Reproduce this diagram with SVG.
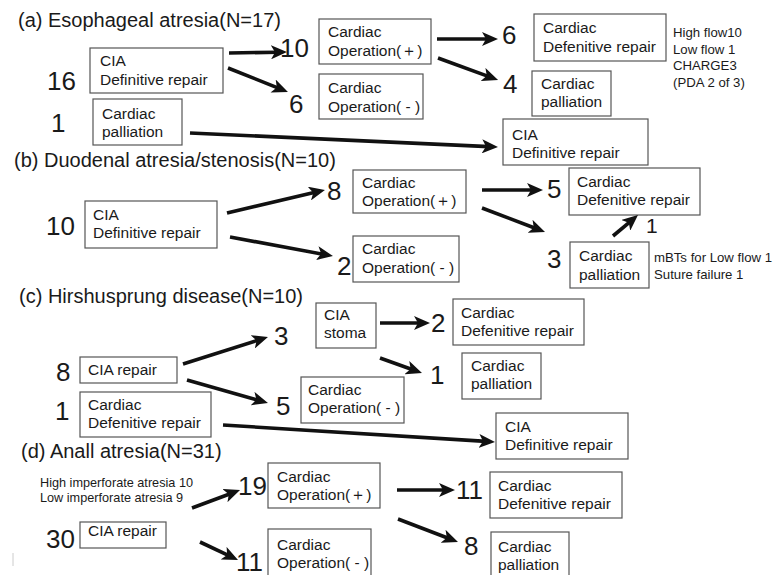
<svg xmlns="http://www.w3.org/2000/svg" width="774" height="575" viewBox="0 0 774 575">
<defs>
<marker id="ah" markerUnits="userSpaceOnUse" viewBox="0 0 16 14" refX="7" refY="7" markerWidth="16" markerHeight="14" orient="auto">
<path d="M0,0 L16,7 L0,14 L4,7 z" fill="#111"/>
</marker>
<style>
text{font-family:"Liberation Sans",Arial,Helvetica,sans-serif;fill:#1a1a1a}
.t{font-size:20px}
.b{font-size:15.5px}
.n{font-size:26px}
.s{font-size:13.2px}
.box{fill:#fff;stroke:#555;stroke-width:1.2}
.ar{stroke:#111;stroke-width:3.6;fill:none;marker-end:url(#ah)}
</style>
</defs>
<rect width="774" height="575" fill="#fff"/>

<!-- Titles -->
<text class="t" x="18" y="27">(a) Esophageal atresia(N=17)</text>
<text class="t" x="14" y="167">(b) Duodenal atresia/stenosis(N=10)</text>
<text class="t" x="19" y="303">(c) Hirshusprung disease(N=10)</text>
<text class="t" x="21" y="458">(d) Anall atresia(N=31)</text>

<!-- Section (a) -->
<g id="a_cia_def">
<rect class="box" x="90" y="48" width="133" height="45"/>
<text class="b" x="100" y="66">CIA</text>
<text class="b" x="100" y="85">Definitive repair</text>
</g>
<g id="a_card_pall">
<rect class="box" x="93" y="99" width="89" height="46"/>
<text class="b" x="102" y="119">Cardiac</text>
<text class="b" x="102" y="137">palliation</text>
</g>
<g id="a_op_plus">
<rect class="box" x="319" y="19" width="112" height="45"/>
<text class="b" x="328" y="37">Cardiac</text>
<text class="b" x="328" y="56">Operation(＋)</text>
</g>
<g id="a_op_minus">
<rect class="box" x="319" y="74" width="104" height="45"/>
<text class="b" x="328" y="93">Cardiac</text>
<text class="b" x="328" y="112">Operation( - )</text>
</g>
<g id="a_card_def">
<rect class="box" x="534" y="14" width="132" height="47"/>
<text class="b" x="543" y="33">Cardiac</text>
<text class="b" x="543" y="52">Defenitive repair</text>
</g>
<g id="a_card_pall2">
<rect class="box" x="532" y="71" width="79" height="45"/>
<text class="b" x="541" y="89">Cardiac</text>
<text class="b" x="541" y="107">palliation</text>
</g>
<g id="a_cia_def2">
<rect class="box" x="503" y="119" width="145" height="46"/>
<text class="b" x="512" y="140">CIA</text>
<text class="b" x="512" y="158">Definitive repair</text>
</g>
<g id="a_note">
<text class="s" x="673" y="37">High flow10</text>
<text class="s" x="673" y="54">Low flow 1</text>
<text class="s" x="673" y="70">CHARGE3</text>
<text class="s" x="673" y="87">(PDA 2 of 3)</text>
</g>
<g id="a_nums">
<text class="n" x="47" y="90">16</text>
<text class="n" x="51" y="132">1</text>
<text class="n" x="280" y="57">10</text>
<text class="n" x="289" y="113">6</text>
<text class="n" x="502" y="44">6</text>
<text class="n" x="503" y="93">4</text>
</g>

<!-- Section (b) -->
<g id="b_cia_def">
<rect class="box" x="85" y="201" width="132" height="47"/>
<text class="b" x="93" y="220">CIA</text>
<text class="b" x="93" y="238">Definitive repair</text>
</g>
<g id="b_op_plus">
<rect class="box" x="353" y="170" width="113" height="43"/>
<text class="b" x="362" y="188">Cardiac</text>
<text class="b" x="362" y="206">Operation(＋)</text>
</g>
<g id="b_op_minus">
<rect class="box" x="353" y="236" width="106" height="46"/>
<text class="b" x="362" y="254">Cardiac</text>
<text class="b" x="362" y="273">Operation( - )</text>
</g>
<g id="b_card_def">
<rect class="box" x="569" y="168" width="131" height="47"/>
<text class="b" x="577" y="187">Cardiac</text>
<text class="b" x="577" y="205">Defenitive repair</text>
</g>
<g id="b_card_pall">
<rect class="box" x="570" y="242" width="79" height="46"/>
<text class="b" x="579" y="261">Cardiac</text>
<text class="b" x="579" y="280">palliation</text>
</g>
<g id="b_note">
<text class="s" x="654" y="262">mBTs for Low flow 1</text>
<text class="s" x="654" y="279">Suture failure 1</text>
</g>
<g id="b_nums">
<text class="n" x="46" y="235">10</text>
<text class="n" x="327" y="200">8</text>
<text class="n" x="337" y="275">2</text>
<text class="n" x="547" y="198">5</text>
<text class="n" x="547" y="268">3</text>
<text x="646" y="233" style="font-size:21px">1</text>
</g>

<!-- Section (c) -->
<g id="c_cia_repair">
<rect class="box" x="80" y="357" width="97" height="26"/>
<text class="b" x="88" y="375">CIA repair</text>
</g>
<g id="c_card_def">
<rect class="box" x="80" y="392" width="131" height="45"/>
<text class="b" x="88" y="410">Cardiac</text>
<text class="b" x="88" y="428">Defenitive repair</text>
</g>
<g id="c_cia_stoma">
<rect class="box" x="316" y="303" width="60" height="45"/>
<text class="b" x="324" y="320">CIA</text>
<text class="b" x="324" y="338">stoma</text>
</g>
<g id="c_op_minus">
<rect class="box" x="301" y="377" width="103" height="46"/>
<text class="b" x="308" y="395">Cardiac</text>
<text class="b" x="308" y="413">Operation( - )</text>
</g>
<g id="c_card_def2">
<rect class="box" x="453" y="299" width="131" height="46"/>
<text class="b" x="461" y="318">Cardiac</text>
<text class="b" x="461" y="336">Defenitive repair</text>
</g>
<g id="c_card_pall">
<rect class="box" x="462" y="353" width="79" height="46"/>
<text class="b" x="471" y="371">Cardiac</text>
<text class="b" x="471" y="389">palliation</text>
</g>
<g id="c_cia_def">
<rect class="box" x="496" y="413" width="132" height="46"/>
<text class="b" x="505" y="432">CIA</text>
<text class="b" x="505" y="450">Definitive repair</text>
</g>
<g id="c_nums">
<text class="n" x="56" y="381">8</text>
<text class="n" x="55" y="420">1</text>
<text class="n" x="274" y="345">3</text>
<text class="n" x="276" y="415">5</text>
<text class="n" x="431" y="332">2</text>
<text class="n" x="430" y="384">1</text>
</g>

<!-- Section (d) -->
<g id="d_note">
<text x="40" y="487" style="font-size:12.7px">High imperforate atresia 10</text>
<text x="40" y="502" style="font-size:12.7px">Low imperforate atresia 9</text>
</g>
<g id="d_cia_repair">
<rect class="box" x="80" y="522" width="86" height="26"/>
<text class="b" x="88" y="536">CIA repair</text>
</g>
<g id="d_op_plus">
<rect class="box" x="268" y="463" width="112" height="45"/>
<text class="b" x="277" y="482">Cardiac</text>
<text class="b" x="277" y="500">Operation(＋)</text>
</g>
<g id="d_op_minus">
<rect class="box" x="268" y="529" width="103" height="50"/>
<text class="b" x="277" y="550">Cardiac</text>
<text class="b" x="277" y="568">Operation( - )</text>
</g>
<g id="d_card_def">
<rect class="box" x="490" y="472" width="132" height="46"/>
<text class="b" x="498" y="491">Cardiac</text>
<text class="b" x="498" y="509">Defenitive repair</text>
</g>
<g id="d_card_pall">
<rect class="box" x="491" y="532" width="78" height="50"/>
<text class="b" x="498" y="552">Cardiac</text>
<text class="b" x="498" y="570">palliation</text>
</g>
<g id="d_nums">
<text class="n" x="46" y="548">30</text>
<text class="n" x="238" y="495">19</text>
<text class="n" x="236" y="571">11</text>
<text class="n" x="456" y="499">11</text>
<text class="n" x="464" y="555">8</text>
</g>

<!-- Connectors -->
<g id="connectors">
<line class="ar" x1="229" y1="53" x2="278" y2="52.2"/>
<line class="ar" x1="228" y1="68" x2="279.6" y2="88.6"/>
<line class="ar" x1="190" y1="133" x2="489" y2="146.6"/>
<line class="ar" x1="437" y1="39" x2="489" y2="39"/>
<line class="ar" x1="438" y1="58" x2="489.6" y2="76.9"/>
<line class="ar" x1="227" y1="213" x2="316.2" y2="192"/>
<line class="ar" x1="230" y1="237" x2="324.1" y2="254.4"/>
<line class="ar" x1="482" y1="190" x2="534" y2="190"/>
<line class="ar" x1="482" y1="208" x2="536.6" y2="228.8"/>
<line class="ar" x1="613" y1="236" x2="631.1" y2="220.8"/>
<line class="ar" x1="183" y1="364" x2="259.4" y2="339.7"/>
<line class="ar" x1="187" y1="380" x2="259.3" y2="400.5"/>
<line class="ar" x1="380" y1="323" x2="421" y2="323"/>
<line class="ar" x1="380" y1="358" x2="413.5" y2="370"/>
<line class="ar" x1="223" y1="425" x2="486" y2="441.4"/>
<line class="ar" x1="192" y1="508" x2="231.6" y2="493.2"/>
<line class="ar" x1="200" y1="542" x2="229.9" y2="556.2"/>
<line class="ar" x1="397" y1="490" x2="446" y2="490"/>
<line class="ar" x1="398" y1="519" x2="449.6" y2="538.8"/>
</g>
<line x1="13" y1="553" x2="13" y2="566" stroke="#ccc" stroke-width="1"/>
</svg>
